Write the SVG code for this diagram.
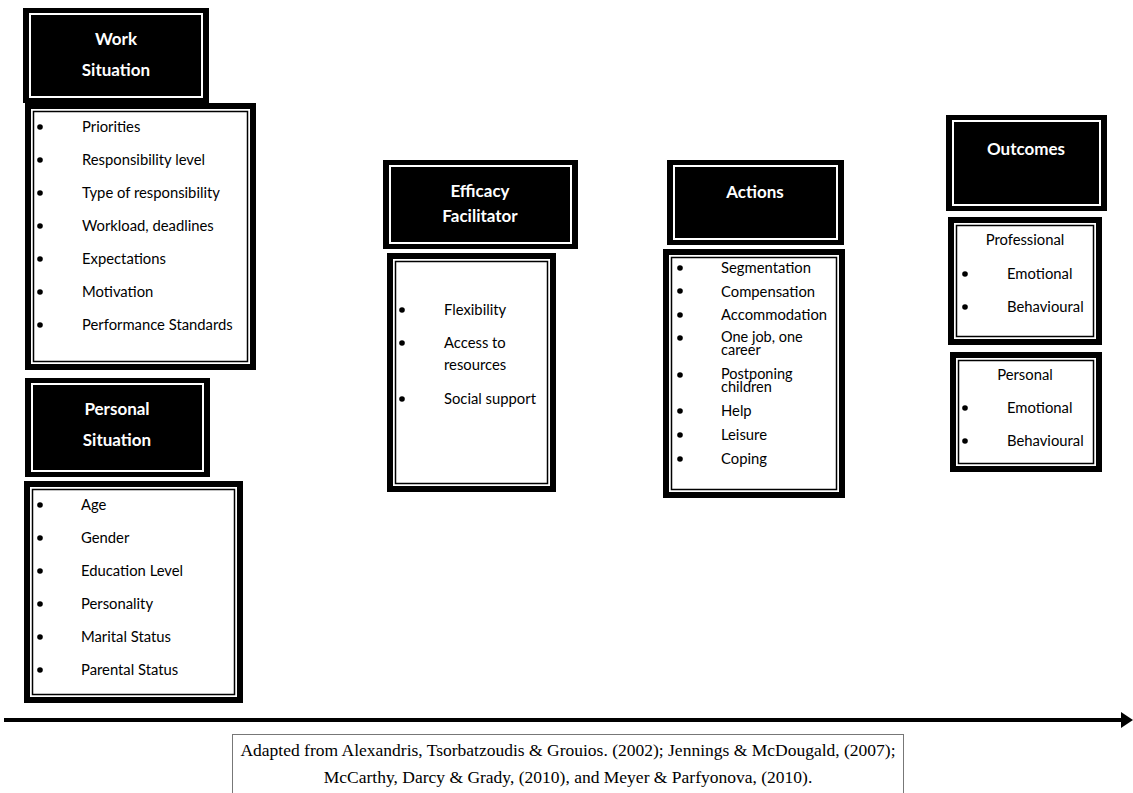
<svg xmlns="http://www.w3.org/2000/svg" width="1133" height="793" viewBox="0 0 1133 793">
<defs>
<style>
.hdr-o{fill:#000;}
.hdr-i{fill:none;stroke:#fff;stroke-width:2;}
.box-o{fill:#fff;stroke:#000;stroke-width:6;}
.box-i{fill:none;stroke:#000;stroke-width:1.5;}
.ht{font-family:Lato,"Open Sans",sans-serif;font-weight:bold;font-size:17px;fill:#fff;text-anchor:middle;}
.it{font-family:Lato,"Open Sans",sans-serif;font-size:14.8px;fill:#000;}
.itc{font-family:Lato,"Open Sans",sans-serif;font-size:14.8px;fill:#000;text-anchor:middle;}
.tight{font-size:14.5px;}
.bl{fill:#000;}
.cite{font-family:"Liberation Serif",serif;font-size:17.5px;fill:#000;text-anchor:middle;}
</style>
</defs>
<rect width="1133" height="793" fill="#fff"/>

<g id="work-situation-header">
<rect class="hdr-o" x="23" y="8" width="186" height="95"/>
<rect class="hdr-i" x="30" y="14" width="172" height="83"/>
<text class="ht" x="116" y="45">Work</text>
<text class="ht" x="116" y="76">Situation</text>
</g>
<g id="work-situation-list">
<rect class="box-o" x="28" y="106" width="225" height="261"/>
<rect class="box-i" x="33.5" y="111.5" width="214" height="250"/>
<g class="bl"><circle cx="40" cy="127" r="2.8"/><circle cx="40" cy="160" r="2.8"/><circle cx="40" cy="193" r="2.8"/><circle cx="40" cy="226" r="2.8"/><circle cx="40" cy="259" r="2.8"/><circle cx="40" cy="292" r="2.8"/><circle cx="40" cy="325" r="2.8"/></g>
<text class="it" x="82" y="132">Priorities</text>
<text class="it" x="82" y="165">Responsibility level</text>
<text class="it" x="82" y="198">Type of responsibility</text>
<text class="it" x="82" y="231">Workload, deadlines</text>
<text class="it" x="82" y="264">Expectations</text>
<text class="it" x="82" y="297">Motivation</text>
<text class="it" x="82" y="330">Performance Standards</text>
</g>

<g id="personal-situation-header">
<rect class="hdr-o" x="25" y="378" width="185" height="99"/>
<rect class="hdr-i" x="32" y="384" width="171" height="87"/>
<text class="ht" x="117" y="415">Personal</text>
<text class="ht" x="117" y="446">Situation</text>
</g>
<g id="personal-situation-list">
<rect class="box-o" x="27" y="484" width="213" height="216"/>
<rect class="box-i" x="32.5" y="489.5" width="202" height="205"/>
<g class="bl"><circle cx="40" cy="505" r="2.8"/><circle cx="40" cy="538" r="2.8"/><circle cx="40" cy="571" r="2.8"/><circle cx="40" cy="604" r="2.8"/><circle cx="40" cy="637" r="2.8"/><circle cx="40" cy="670" r="2.8"/></g>
<text class="it" x="81" y="510">Age</text>
<text class="it" x="81" y="543">Gender</text>
<text class="it" x="81" y="576">Education Level</text>
<text class="it" x="81" y="609">Personality</text>
<text class="it" x="81" y="642">Marital Status</text>
<text class="it" x="81" y="675">Parental Status</text>
</g>

<g id="efficacy-facilitator-header">
<rect class="hdr-o" x="383" y="160" width="195" height="89"/>
<rect class="hdr-i" x="390" y="166" width="181" height="77"/>
<text class="ht" x="480" y="197">Efficacy</text>
<text class="ht" x="480" y="222">Facilitator</text>
</g>
<g id="efficacy-facilitator-list">
<rect class="box-o" x="390" y="256" width="163" height="233"/>
<rect class="box-i" x="395.5" y="261.5" width="152" height="222"/>
<g class="bl"><circle cx="402" cy="310" r="2.8"/><circle cx="402" cy="343" r="2.8"/><circle cx="402" cy="399" r="2.8"/></g>
<text class="it" x="444" y="315">Flexibility</text>
<text class="it" x="444" y="348">Access to</text>
<text class="it" x="444" y="370">resources</text>
<text class="it" x="444" y="404">Social support</text>
</g>

<g id="actions-header">
<rect class="hdr-o" x="667" y="160" width="177" height="85"/>
<rect class="hdr-i" x="674" y="166" width="163" height="73"/>
<text class="ht" x="755" y="198">Actions</text>
</g>
<g id="actions-list">
<rect class="box-o" x="666" y="252" width="176" height="243"/>
<rect class="box-i" x="671.5" y="257.5" width="165" height="232"/>
<g class="bl"><circle cx="680" cy="268" r="2.8"/><circle cx="680" cy="291" r="2.8"/><circle cx="680" cy="315" r="2.8"/><circle cx="680" cy="338" r="2.8"/><circle cx="680" cy="375" r="2.8"/><circle cx="680" cy="411" r="2.8"/><circle cx="680" cy="435" r="2.8"/><circle cx="680" cy="459" r="2.8"/></g>
<text class="it" x="721" y="273">Segmentation</text>
<text class="it" x="721" y="297">Compensation</text>
<text class="it" x="721" y="320">Accommodation</text>
<text class="it tight" x="721" y="342">One job, one</text>
<text class="it tight" x="721" y="355">career</text>
<text class="it tight" x="721" y="379">Postponing</text>
<text class="it tight" x="721" y="392">children</text>
<text class="it" x="721" y="416">Help</text>
<text class="it" x="721" y="440">Leisure</text>
<text class="it" x="721" y="464">Coping</text>
</g>

<g id="outcomes-header">
<rect class="hdr-o" x="946" y="115" width="161" height="96"/>
<rect class="hdr-i" x="953" y="121" width="147" height="84"/>
<text class="ht" x="1026" y="155">Outcomes</text>
</g>
<g id="outcomes-professional">
<rect class="box-o" x="951" y="220" width="148" height="122"/>
<rect class="box-i" x="956.5" y="225.5" width="137" height="111"/>
<text class="itc" x="1025" y="245">Professional</text>
<g class="bl"><circle cx="965" cy="274" r="2.8"/><circle cx="965" cy="307" r="2.8"/></g>
<text class="it" x="1007" y="279">Emotional</text>
<text class="it" x="1007" y="312">Behavioural</text>
</g>
<g id="outcomes-personal">
<rect class="box-o" x="953" y="355" width="146" height="114"/>
<rect class="box-i" x="958.5" y="360.5" width="135" height="103"/>
<text class="itc" x="1025" y="380">Personal</text>
<g class="bl"><circle cx="965" cy="408" r="2.8"/><circle cx="965" cy="441" r="2.8"/></g>
<text class="it" x="1007" y="413">Emotional</text>
<text class="it" x="1007" y="446">Behavioural</text>
</g>

<g id="connectors">
<line x1="4" y1="720" x2="1124" y2="720" stroke="#000" stroke-width="4"/>
<polygon points="1121,712 1133,720 1121,728" fill="#000"/>
</g>

<g id="citation">
<rect x="232.5" y="734.5" width="671" height="62" fill="#fff" stroke="#777" stroke-width="1"/>
<text class="cite" x="568" y="756">Adapted from Alexandris, Tsorbatzoudis &amp; Grouios. (2002); Jennings &amp; McDougald, (2007);</text>
<text class="cite" x="568" y="783">McCarthy, Darcy &amp; Grady, (2010), and Meyer &amp; Parfyonova, (2010).</text>
</g>
</svg>
